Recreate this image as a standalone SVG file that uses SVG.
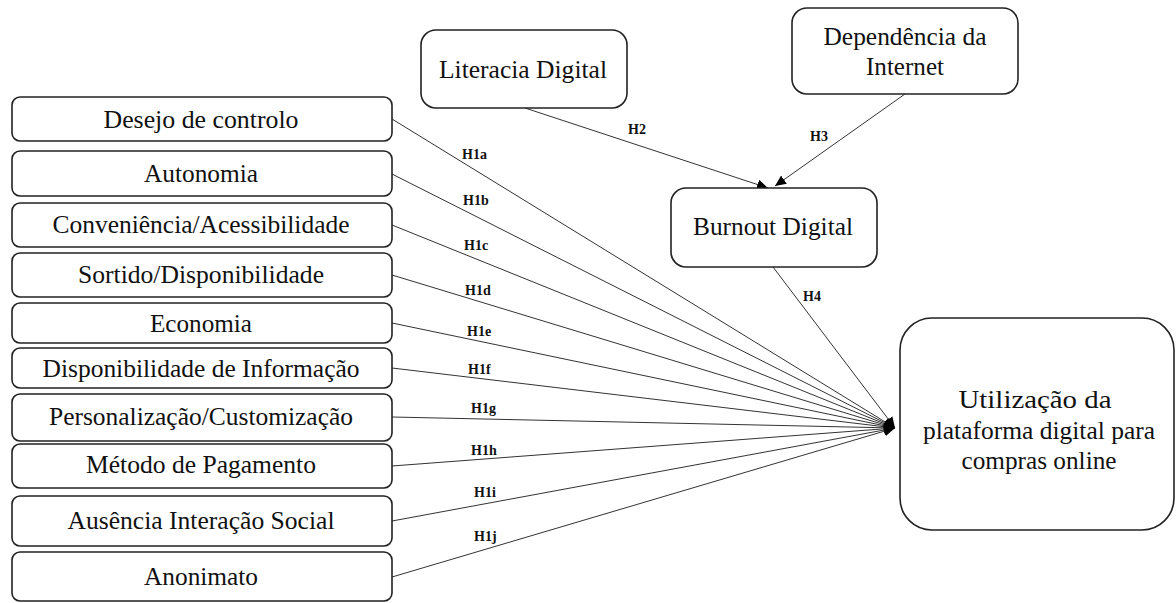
<svg xmlns="http://www.w3.org/2000/svg" width="1176" height="603" viewBox="0 0 1176 603">
<style>
.box{fill:#fff;stroke:#222;stroke-width:1.6}
.t{font-family:"Liberation Serif","Times New Roman",serif;font-size:25px;fill:#111;text-anchor:middle}
.lbl{font-family:"Liberation Serif","Times New Roman",serif;font-size:14px;font-weight:bold;fill:#111}
.c{stroke:#333;stroke-width:1;fill:none;marker-end:url(#ah)}
</style>
<defs>
<marker id="ah" markerUnits="userSpaceOnUse" markerWidth="12" markerHeight="10" refX="11" refY="5" orient="auto">
<path d="M0,0 L11,5 L0,10 Z" fill="#000"/>
</marker>
</defs>
<rect width="1176" height="603" fill="#fff"/>
<g id="connectors">
<line class="c" x1="392" y1="119" x2="895" y2="428"/>
<line class="c" x1="392" y1="174" x2="895" y2="428"/>
<line class="c" x1="392" y1="225" x2="895" y2="428"/>
<line class="c" x1="392" y1="275" x2="895" y2="428"/>
<line class="c" x1="392" y1="323" x2="895" y2="428"/>
<line class="c" x1="392" y1="368" x2="895" y2="428"/>
<line class="c" x1="392" y1="417" x2="895" y2="428"/>
<line class="c" x1="392" y1="466" x2="895" y2="428"/>
<line class="c" x1="392" y1="521" x2="895" y2="428"/>
<line class="c" x1="392" y1="577" x2="895" y2="428"/>
<line class="c" x1="773" y1="267" x2="895" y2="428"/>
<line class="c" x1="525" y1="108" x2="768" y2="188"/>
<line class="c" x1="905" y1="94" x2="775" y2="186"/>
<text class="lbl" x="462" y="159">H1a</text>
<text class="lbl" x="463" y="205">H1b</text>
<text class="lbl" x="464" y="250">H1c</text>
<text class="lbl" x="465" y="295">H1d</text>
<text class="lbl" x="467" y="336">H1e</text>
<text class="lbl" x="468" y="374">H1f</text>
<text class="lbl" x="471" y="413">H1g</text>
<text class="lbl" x="471" y="455">H1h</text>
<text class="lbl" x="474" y="497">H1i</text>
<text class="lbl" x="474" y="541">H1j</text>
<text class="lbl" x="628" y="134">H2</text>
<text class="lbl" x="810" y="141">H3</text>
<text class="lbl" x="803" y="301">H4</text>
</g>
<g id="n1"><rect class="box" x="12" y="97" width="380" height="44" rx="8"/><text class="t" x="201" y="128" textLength="195" lengthAdjust="spacingAndGlyphs">Desejo de controlo</text></g>
<g id="n2"><rect class="box" x="12" y="151" width="380" height="45" rx="8"/><text class="t" x="201" y="182" textLength="114" lengthAdjust="spacingAndGlyphs">Autonomia</text></g>
<g id="n3"><rect class="box" x="12" y="203" width="380" height="44" rx="8"/><text class="t" x="201" y="233" textLength="297" lengthAdjust="spacingAndGlyphs">Conveniência/Acessibilidade</text></g>
<g id="n4"><rect class="box" x="12" y="253" width="380" height="44" rx="8"/><text class="t" x="201" y="283" textLength="246" lengthAdjust="spacingAndGlyphs">Sortido/Disponibilidade</text></g>
<g id="n5"><rect class="box" x="12" y="303" width="380" height="40" rx="8"/><text class="t" x="201" y="332" textLength="102" lengthAdjust="spacingAndGlyphs">Economia</text></g>
<g id="n6"><rect class="box" x="12" y="348" width="380" height="40" rx="8"/><text class="t" x="201" y="377" textLength="317" lengthAdjust="spacingAndGlyphs">Disponibilidade de Informação</text></g>
<g id="n7"><rect class="box" x="12" y="394" width="380" height="47" rx="8"/><text class="t" x="201" y="425" textLength="304" lengthAdjust="spacingAndGlyphs">Personalização/Customização</text></g>
<g id="n8"><rect class="box" x="12" y="444" width="380" height="44" rx="8"/><text class="t" x="201" y="473" textLength="230" lengthAdjust="spacingAndGlyphs">Método de Pagamento</text></g>
<g id="n9"><rect class="box" x="12" y="496" width="380" height="50" rx="8"/><text class="t" x="201" y="529" textLength="267" lengthAdjust="spacingAndGlyphs">Ausência Interação Social</text></g>
<g id="n10"><rect class="box" x="12" y="552" width="380" height="49" rx="8"/><text class="t" x="201" y="585" textLength="114" lengthAdjust="spacingAndGlyphs">Anonimato</text></g>
<g id="literacia"><rect class="box" x="421" y="30" width="206" height="78" rx="15"/><text class="t" x="523" y="78" textLength="168" lengthAdjust="spacingAndGlyphs">Literacia Digital</text></g>
<g id="dependencia"><rect class="box" x="792" y="8" width="226" height="86" rx="15"/><text class="t" x="905" y="45" textLength="163" lengthAdjust="spacingAndGlyphs">Dependência da</text><text class="t" x="905" y="75" textLength="78" lengthAdjust="spacingAndGlyphs">Internet</text></g>
<g id="burnout"><rect class="box" x="671" y="188" width="206" height="79" rx="15"/><text class="t" x="773" y="235" textLength="160" lengthAdjust="spacingAndGlyphs">Burnout Digital</text></g>
<g id="utilizacao"><rect class="box" x="900" y="318" width="274" height="212" rx="32"/><text class="t" x="1035" y="408" textLength="153" lengthAdjust="spacingAndGlyphs">Utilização da</text><text class="t" x="1039" y="439" textLength="232" lengthAdjust="spacingAndGlyphs">plataforma digital para</text><text class="t" x="1039" y="469" textLength="155" lengthAdjust="spacingAndGlyphs">compras online</text></g>
</svg>
